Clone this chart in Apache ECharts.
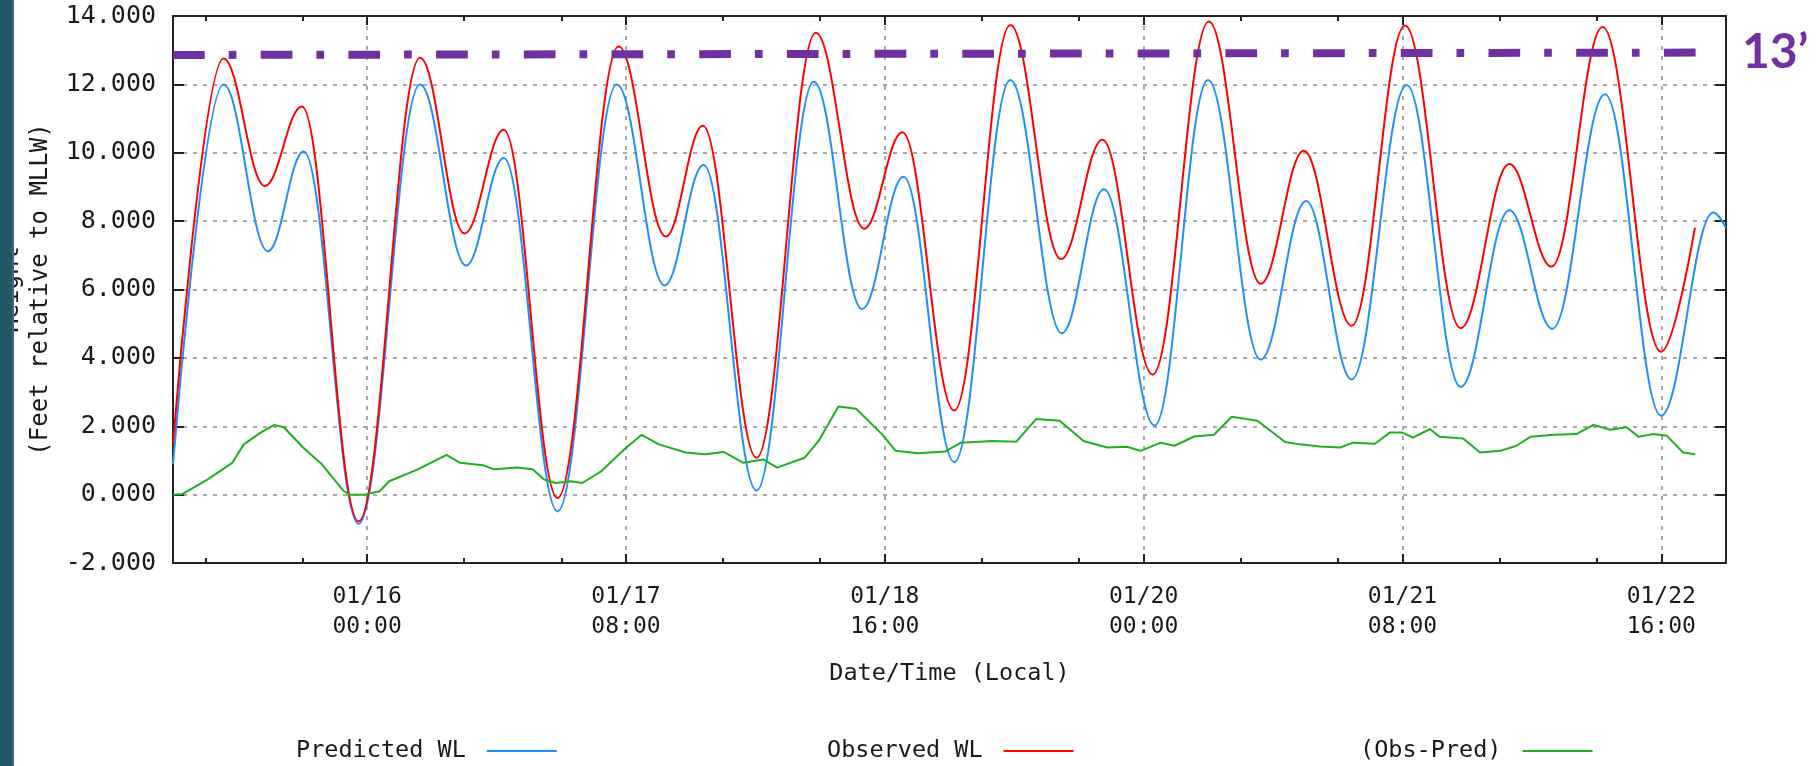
<!DOCTYPE html>
<html><head><meta charset="utf-8">
<script src="https://cdn.jsdelivr.net/npm/echarts@6/dist/echarts.min.js"></script>
<style>html,body{margin:0;padding:0;background:#fff}#c{width:1819px;height:766px}</style>
</head><body><div id="c"></div>
<script>
// hours since 01/15 00:00 (local)
const predHours  = [0, 6.24, 11.73, 16.17, 22.94, 30.55, 36.23, 40.91, 47.54, 54.87, 60.78, 65.6, 72.14, 79.23, 85.19, 90.33, 96.6, 103.52, 109.88, 115.1, 121.36, 127.96, 134.47, 140.09, 145.72, 152.52, 159.19, 165.21, 170.53, 177.04, 183.96, 190.43, 192];
const predValues = [0.9, 12.0, 7.12, 10.04, -0.85, 12.0, 6.70, 9.85, -0.49, 12.0, 6.12, 9.64, 0.12, 12.08, 5.43, 9.30, 0.95, 12.13, 4.72, 8.93, 2.02, 12.13, 3.95, 8.59, 3.37, 11.98, 3.15, 8.32, 4.85, 11.71, 2.31, 8.25, 7.8];
const obsHours   = [0, 6.24, 11.35, 15.94, 22.94, 30.55, 36.04, 40.91, 47.54, 55.1, 60.92, 65.51, 72.14, 79.47, 85.44, 90.18, 96.58, 103.52, 109.78, 114.91, 121.12, 128.06, 134.47, 139.8, 145.72, 152.31, 159.19, 165.21, 170.44, 176.75, 183.96, 188.16];
const obsValues  = [1.5, 12.76, 9.03, 11.35, -0.78, 12.78, 7.64, 10.67, -0.1, 13.11, 7.55, 10.79, 1.08, 13.51, 7.78, 10.6, 2.46, 13.74, 6.89, 10.38, 3.51, 13.84, 6.17, 10.06, 4.94, 13.72, 4.87, 9.67, 6.67, 13.68, 4.18, 7.81];
const diffHours  = [0, 1.2, 4.25, 7.33, 8.75, 10.88, 12.53, 13.7, 16.08, 18.44, 21.05, 21.76, 23.65, 25.54, 26.72, 30.27, 33.82, 35.47, 38.31, 39.73, 42.57, 44.46, 45.88, 47.3, 49.19, 50.61, 52.98, 55.81, 57.94, 60.07, 63.38, 65.75, 68.08, 70.53, 72.97, 74.68, 78.1, 79.82, 82.26, 84.46, 87.64, 89.35, 92.04, 95.46, 97.41, 101.32, 104.26, 106.7, 109.63, 112.57, 115.5, 117.94, 119.65, 122.1, 123.81, 126.25, 128.7, 130.9, 134.07, 137.5, 139.33, 141.8, 144.3, 145.9, 148.6, 150.46, 151.9, 153.3, 155.4, 156.6, 159.5, 161.6, 164.1, 166.1, 167.8, 170.7, 173.5, 175.6, 177.7, 179.7, 181.2, 183.0, 184.7, 186.7, 188.2];
const diffValues = [0.0, 0.02, 0.44, 0.93, 1.47, 1.82, 2.04, 1.97, 1.38, 0.88, 0.12, 0.0, 0.0, 0.1, 0.39, 0.74, 1.16, 0.93, 0.86, 0.74, 0.79, 0.74, 0.44, 0.34, 0.39, 0.34, 0.69, 1.33, 1.75, 1.47, 1.23, 1.18, 1.25, 0.93, 1.03, 0.79, 1.08, 1.57, 2.58, 2.51, 1.77, 1.28, 1.21, 1.26, 1.52, 1.57, 1.55, 2.21, 2.16, 1.57, 1.38, 1.40, 1.28, 1.52, 1.43, 1.70, 1.75, 2.28, 2.16, 1.54, 1.47, 1.41, 1.38, 1.52, 1.49, 1.82, 1.82, 1.67, 1.92, 1.69, 1.64, 1.23, 1.28, 1.43, 1.69, 1.75, 1.77, 2.04, 1.90, 1.97, 1.69, 1.77, 1.72, 1.23, 1.18];
const refHours   = [0, 188.9];
const refValues  = [12.86, 12.93];
const majorTickHours  = [24, 56, 88, 120, 152, 184];
const majorTickLabels = ['01/16\n00:00', '01/17\n08:00', '01/18\n16:00', '01/20\n00:00', '01/21\n08:00', '01/22\n16:00'];
const minorTickHours  = [4, 16, 36, 48, 68, 80, 100, 112, 132, 144, 164, 176];
const yMin = -2, yMax = 14, yStep = 2;
const xMin = 0, xMax = 192;

const zip = (h, v) => h.map((x, i) => [x, v[i]]);
const FONT = 'DejaVu Sans Mono';
const TXT = '#1a1a1a';
const AX = { color: '#222', width: 2 };
const GRID = { color: '#a8a8a8', width: 2, type: [4, 6] };

function xAx(pos, major, withLine) {
  return {
    type: 'value', position: pos, min: xMin, max: xMax, z: withLine ? 5 : 0,
    axisLine: { show: withLine, onZero: false, lineStyle: AX },
    axisTick: { show: true, inside: true, length: major ? 9 : 5, customValues: major ? majorTickHours : minorTickHours, lineStyle: AX },
    axisLabel: (major && pos === 'bottom') ? {
      show: true, customValues: majorTickHours,
      formatter: v => majorTickLabels[majorTickHours.indexOf(v)] || '',
      fontFamily: FONT, fontSize: 23, lineHeight: 30, color: TXT, margin: 19
    } : { show: false },
    splitLine: { show: major && pos === 'bottom', lineStyle: GRID },
    name: (major && pos === 'bottom') ? 'Date/Time (Local)' : '',
    nameLocation: 'middle', nameGap: 99,
    nameTextStyle: { fontFamily: FONT, fontSize: 23.5, color: TXT }
  };
}

const chart = echarts.init(document.getElementById('c'));
chart.setOption({
  animation: false,
  backgroundColor: '#fff',
  grid: { left: 173, top: 16, width: 1553, height: 547, containLabel: false, outerBoundsMode: 'none' },
  xAxis: [xAx('bottom', true, false), xAx('bottom', false, true), xAx('top', true, false), xAx('top', false, true)],
  yAxis: [{
    type: 'value', position: 'left', min: yMin, max: yMax, interval: yStep,
    axisLine: { show: true, onZero: false, lineStyle: AX },
    axisTick: { show: true, inside: true, length: 11, lineStyle: AX },
    axisLabel: { formatter: v => v.toFixed(3), fontFamily: FONT, fontSize: 25, color: TXT, margin: 17 },
    splitLine: { show: true, lineStyle: GRID },
    name: 'Height\n(Feet relative to MLLW)', nameLocation: 'middle', nameGap: 111, nameRotate: 90,
    nameTextStyle: { fontFamily: FONT, fontSize: 24, lineHeight: 29, color: TXT }
  }, {
    type: 'value', position: 'right', min: yMin, max: yMax, interval: yStep,
    axisLine: { show: true, onZero: false, lineStyle: AX },
    axisTick: { show: true, inside: true, length: 11, lineStyle: AX },
    axisLabel: { show: false }, splitLine: { show: false }
  }],
  legend: [
    { data: ['Predicted WL'] , left: 296 },
    { data: ['Observed WL'], left: 827 },
    { data: ['(Obs-Pred)'], left: 1360 }
  ].map(l => Object.assign({
    top: 739, padding: 0, align: 'right', icon: 'rect', itemWidth: 70, itemHeight: 2,
    selectedMode: false,
    textStyle: { fontFamily: FONT, fontSize: 23.5, lineHeight: 24, color: TXT, padding: [0, 16, 0, 0] }
  }, l)),
  series: [
    { type: 'line', name: 'Predicted WL', data: zip(predHours, predValues), symbol: 'none', smooth: 0.38, smoothMonotone: 'x',
      lineStyle: { color: '#1e8fff', width: 2 }, itemStyle: { color: '#1e8fff' }, z: 2 },
    { type: 'line', name: 'Observed WL', data: zip(obsHours, obsValues), symbol: 'none', smooth: 0.38, smoothMonotone: 'x',
      lineStyle: { color: '#ff0000', width: 2 }, itemStyle: { color: '#ff0000' }, z: 3 },
    { type: 'line', name: '(Obs-Pred)', data: zip(diffHours, diffValues), symbol: 'none',
      lineStyle: { color: '#1fb01f', width: 2 }, itemStyle: { color: '#1fb01f' }, z: 3 },
    { type: 'line', name: '13ft', data: zip(refHours, refValues), symbol: 'none', silent: true,
      lineStyle: { color: '#7030a0', width: 8, type: [31.7, 24, 7.7, 24.3], cap: 'butt' }, z: 4 }
  ],
  graphic: [
    { type: 'rect', shape: { x: 0, y: 0, width: 12, height: 766 }, style: { fill: '#245868' }, z: 100 },
    { type: 'rect', shape: { x: 12, y: 0, width: 2, height: 766 }, style: { fill: '#3c6596' }, z: 100 },
    { type: 'text', x: 1742, y: 53, z: 100, style: { text: '13\u2019', fill: '#7030a0', font: 'bold 48px Lato', verticalAlign: 'middle' } }
  ]
});
</script></body></html>
